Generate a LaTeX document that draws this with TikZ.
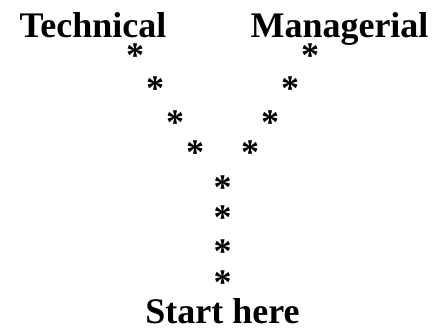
\documentclass[tikz,border=0pt]{standalone}
\usepackage{fontspec}
\setmainfont{Liberation Serif}
\tikzset{
  label/.style={font=\bfseries\fontsize{36}{40}\selectfont, inner sep=0pt, anchor=base},
  ast/.style={font=\bfseries\fontsize{36}{40}\selectfont, inner sep=0pt, anchor=base, yshift=-17.5pt}
}
\begin{document}
\begin{tikzpicture}[x=1pt,y=1pt]
\useasboundingbox (0,0) rectangle (434,327);
\node[label] (tech) at (93,289) {Technical};
\node[label] (man) at (339.5,289) {Managerial};
\node[label] (start) at (222.5,3.5) {Start here};
\node[ast] (l1) at (135,277) {*};
\node[ast] (l2) at (155,244) {*};
\node[ast] (l3) at (175,210) {*};
\node[ast] (l4) at (195,180) {*};
\node[ast] (r1) at (310,277) {*};
\node[ast] (r2) at (290,244) {*};
\node[ast] (r3) at (270,210) {*};
\node[ast] (r4) at (250,180) {*};
\node[ast] (s1) at (222.7,145) {*};
\node[ast] (s2) at (222.7,115) {*};
\node[ast] (s3) at (222.7,81) {*};
\node[ast] (s4) at (222.7,50) {*};
\end{tikzpicture}
\end{document}
